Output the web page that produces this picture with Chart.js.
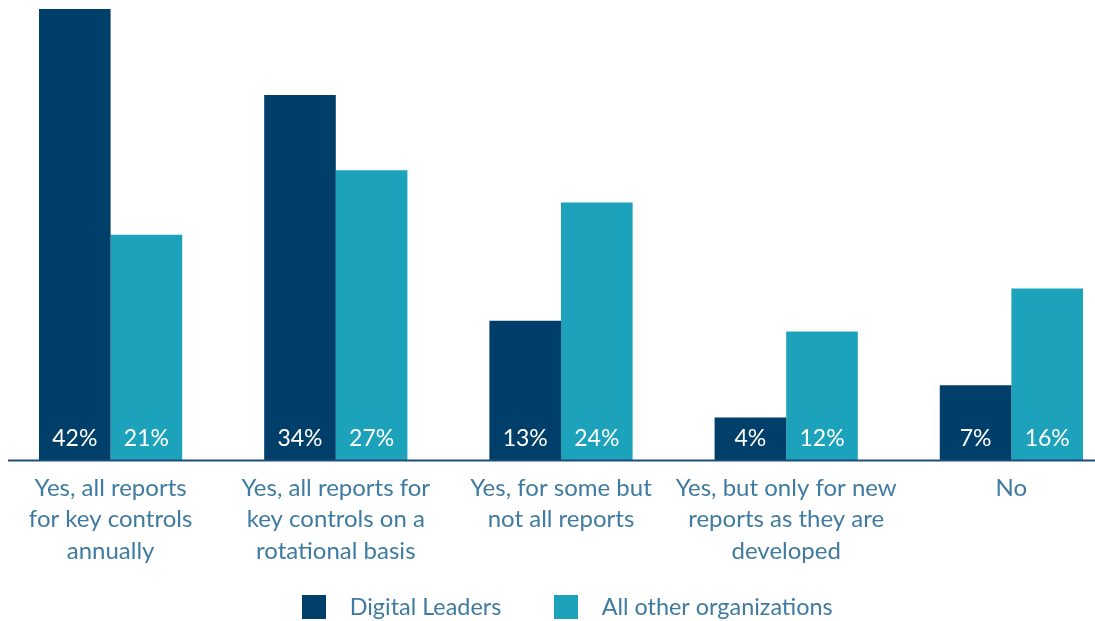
<!DOCTYPE html>
<html>
<head>
<meta charset="utf-8">
<script src="https://cdn.jsdelivr.net/npm/chart.js@4/dist/chart.umd.min.js"></script>
<style>
  html, body { margin: 0; padding: 0; background: #ffffff; overflow: hidden; }
  #wrap { position: absolute; left: -2px; top: 0; width: 1126px; height: 621px; }
</style>
</head>
<body>
<div id="wrap"><canvas id="chart"></canvas></div>
<script>
// Survey answers, one group per answer
const categories = [
  ['Yes, all reports', 'for key controls', 'annually'],
  ['Yes, all reports for', 'key controls on a', 'rotational basis'],
  ['Yes, for some but', 'not all reports'],
  ['Yes, but only for new', 'reports as they are', 'developed'],
  ['No']
];
const seriesNames = ['Digital Leaders', 'All other organizations'];
const digitalLeaders = [42, 34, 13, 4, 7];
const otherOrgs = [21, 27, 24, 12, 16];

const DARK = '#003f69';
const TEAL = '#1ca3bb';
const TEXT = '#3f7ba0';
const FONT = 'Lato, "Open Sans", sans-serif';

// Square legend swatch drawn on its own little canvas
function swatch(color) {
  const c = document.createElement('canvas');
  c.width = 24; c.height = 24;
  const g = c.getContext('2d');
  g.fillStyle = color;
  g.fillRect(0, 0, 24, 24);
  return c;
}

// Percent labels sitting at the foot of each bar
const valueLabels = {
  id: 'valueLabels',
  afterDatasetsDraw(chart) {
    const ctx = chart.ctx;
    const y0 = chart.scales.y.getPixelForValue(0);
    ctx.save();
    ctx.font = '23px ' + FONT;
    ctx.fillStyle = '#ffffff';
    ctx.textAlign = 'center';
    ctx.textBaseline = 'middle';
    chart.data.datasets.forEach((ds, i) => {
      chart.getDatasetMeta(i).data.forEach((bar, j) => {
        ctx.fillText(ds.data[j] + '%', bar.x, y0 - 22);
      });
    });
    ctx.restore();
  }
};

// Baseline along the value axis zero
const baseline = {
  id: 'baseline',
  afterDatasetsDraw(chart) {
    const ctx = chart.ctx;
    const y0 = chart.scales.y.getPixelForValue(0);
    ctx.save();
    ctx.strokeStyle = '#1d4e74';
    ctx.lineWidth = 2;
    ctx.beginPath();
    ctx.moveTo(10, y0);
    ctx.lineTo(chart.width, y0);
    ctx.stroke();
    ctx.restore();
  }
};

// Pull the legend row a little closer to the category labels
const legendLift = {
  id: 'legendLift',
  afterLayout(chart) {
    const lg = chart.legend;
    if (lg) { lg.top -= 11.67; }
  }
};

new Chart(document.getElementById('chart'), {
  type: 'bar',
  data: {
    labels: categories,
    datasets: [
      { label: seriesNames[0], data: digitalLeaders, backgroundColor: DARK },
      { label: seriesNames[1], data: otherOrgs, backgroundColor: TEAL }
    ]
  },
  options: {
    responsive: true,
    maintainAspectRatio: false,
    animation: false,
    layout: { padding: { top: 9, left: 0, right: 0, bottom: 0 } },
    datasets: { bar: { categoryPercentage: 0.636, barPercentage: 1.0 } },
    scales: {
      x: {
        grid: { display: false, drawTicks: false },
        border: { display: false },
        afterFit(scale) { scale.height = 106.5; },
        ticks: {
          color: TEXT,
          padding: 12,
          font: { family: FONT, size: 24, lineHeight: 1.3125 },
          maxRotation: 0,
          autoSkip: false
        }
      },
      y: {
        display: false,
        min: 0,
        max: 42
      }
    },
    plugins: {
      tooltip: { enabled: false },
      legend: {
        position: 'bottom',
        maxHeight: 54,
        labels: {
          color: TEXT,
          font: { family: FONT, size: 23.4 },
          usePointStyle: true,
          pointStyleWidth: 48.7,
          boxHeight: 24,
          padding: 40,
          generateLabels(chart) {
            const items = Chart.defaults.plugins.legend.labels.generateLabels(chart);
            items.forEach(it => { it.pointStyle = swatch(it.fillStyle); });
            return items;
          }
        }
      }
    }
  },
  plugins: [valueLabels, baseline, legendLift]
});
</script>
</body>
</html>
